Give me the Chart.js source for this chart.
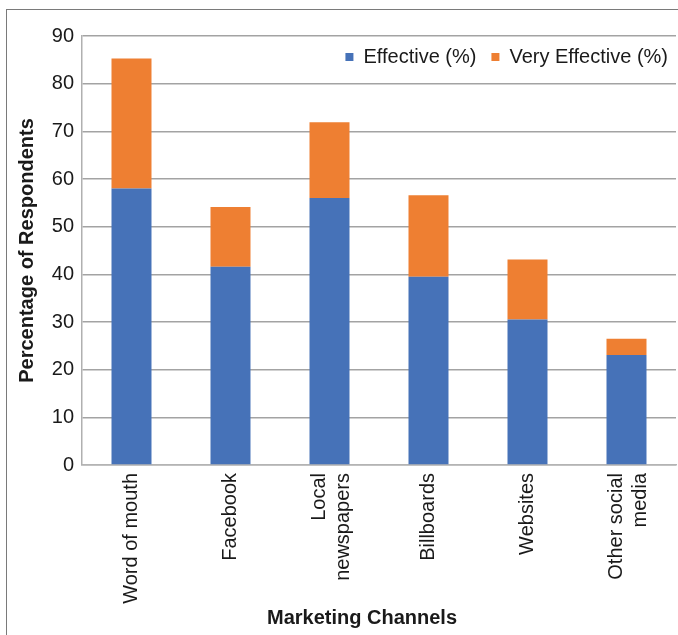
<!DOCTYPE html>
<html>
<head>
<meta charset="utf-8">
<script src="https://cdn.jsdelivr.net/npm/chart.js@4.4.0/dist/chart.umd.min.js"></script>
<style>
  html, body { margin:0; padding:0; background:#fff; }
  #wrap { position:relative; width:678px; height:635px; overflow:hidden; }
  #frame { position:absolute; left:6px; top:9px; width:700px; height:700px; border:1.5px solid #7a7a7a; pointer-events:none; }
  canvas { position:absolute; left:0; top:0; }
</style>
</head>
<body>
<div id="wrap">
  <canvas id="myChart" width="678" height="635"></canvas>
  <div id="frame"></div>
</div>
<script>
// categories + series
var channels = ['Word of mouth', 'Facebook', ['Local', 'newspapers'], 'Billboards', 'Websites', ['Other social', 'media']]
var effective = [58, 41.6, 56, 39.5, 30.5, 23.1]
var veryEffective = [27.3, 12.5, 15.9, 17.1, 12.6, 3.4]
var yTicks = [0, 10, 20, 30, 40, 50, 60, 70, 80, 90]

Chart.defaults.font.family = '"Liberation Sans", Arial, sans-serif'
Chart.defaults.color = '#1a1a1a'

// legend sits inside the plot, top right, in one row
var legendInside = {
    id: 'legendInside',
    beforeLayout: function(chart) {
        var lg = chart.legend
        if (lg && !lg._inside) {
            var fit = lg.fit
            lg.fit = function() {
                fit.call(this)
                this.height = 0   // don't take room from the plot
            }
            lg._inside = true
        }
    },
    afterLayout: function(chart) {
        var lg = chart.legend
        lg.top = chart.chartArea.top - 4
        lg.bottom = lg.top + 45   // legend clips to its own box
        lg.right = chart.chartArea.right + 7
    }
}

var ctx = document.getElementById('myChart').getContext('2d')
var chart1 = new Chart(ctx, {
    type: 'bar',
    plugins: [legendInside],
    data: {
        labels: channels,
        datasets: [{
            label: 'Effective (%)',
            data: effective,
            backgroundColor: '#4672B8'
        }, {
            label: 'Very Effective (%)',
            data: veryEffective,
            backgroundColor: '#EE7F32'
        }]
    },
    options: {
        responsive: false,
        animation: false,
        devicePixelRatio: 1,
        categoryPercentage: 1,
        barPercentage: 0.404,
        layout: {
            padding: { top: 36, right: 2, left: 0, bottom: 0 }
        },
        plugins: {
            legend: {
                position: 'top',
                align: 'end',
                labels: {
                    boxWidth: 8,
                    boxHeight: 8,
                    padding: 15,
                    font: { size: 20 },
                    color: '#1a1a1a'
                }
            },
            tooltip: { enabled: false }
        },
        scales: {
            x: {
                stacked: true,
                grid: { display: false },
                border: { display: true, color: '#b4b4b4', width: 1.5 },
                ticks: {
                    maxRotation: 90,
                    minRotation: 90,
                    padding: 0,
                    autoSkip: false,
                    font: { size: 20, lineHeight: 1.2 },
                    color: '#1a1a1a'
                },
                title: {
                    display: true,
                    text: 'Marketing Channels',
                    font: { size: 20, weight: 'bold', lineHeight: 1.2 },
                    color: '#1a1a1a',
                    padding: { top: 0, bottom: 5 }
                },
                afterFit: function(scale) {
                    scale.height = 170
                    if (!scale._centered) {
                        // center the two-line labels on their bars
                        var compute = scale._computeLabelItems
                        scale._computeLabelItems = function(area) {
                            var items = compute.call(this, area)
                            items.forEach(function(it) {
                                if (Array.isArray(it.label)) it.options.translation[0] -= 10
                            })
                            return items
                        }
                        // title sits a bit left of the plot centre
                        var drawTitle = scale.drawTitle
                        scale.drawTitle = function() {
                            var l = this.left, r = this.right
                            this.left = l - 17
                            this.right = r - 17
                            drawTitle.apply(this, arguments)
                            this.left = l
                            this.right = r
                        }
                        scale._centered = true
                    }
                }
            },
            y: {
                stacked: true,
                min: 0,
                max: 90,
                afterBuildTicks: function(scale) {
                    scale.ticks = yTicks.map(function(v) { return { value: v } })
                },
                grid: { color: '#a3a3a3', lineWidth: 1.5, drawTicks: false },
                border: { display: true, color: '#b0b0b0', width: 1.5 },
                ticks: {
                    padding: 8,
                    font: { size: 20 },
                    color: '#1a1a1a'
                },
                title: {
                    display: true,
                    text: 'Percentage of Respondents',
                    font: { size: 20, weight: 'bold', lineHeight: 1.2 },
                    color: '#1a1a1a',
                    padding: { top: 15, bottom: 0 }
                },
                afterFit: function(scale) { scale.width = 82 }
            }
        }
    }
})
</script>
</body>
</html>
